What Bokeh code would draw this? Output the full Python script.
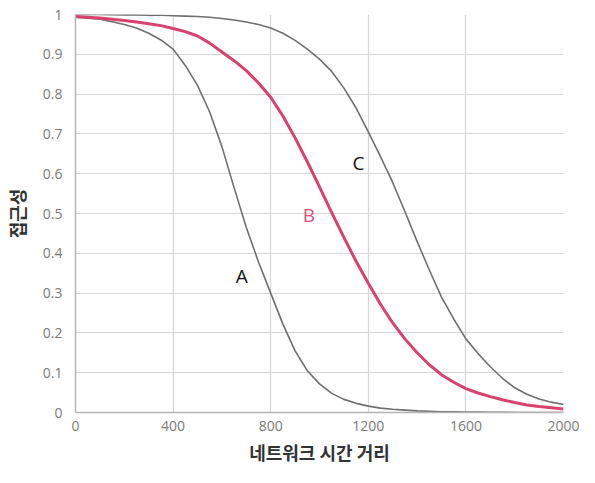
from bokeh.plotting import figure
from bokeh.models import Range1d, FixedTicker, ColumnDataSource
from bokeh.core.properties import value
from bokeh.embed import file_html
from bokeh.resources import INLINE

# ---- data ----
distance = [0, 50, 100, 150, 200, 250, 300, 350, 400, 450, 500, 550, 600, 650, 700, 750,
            800, 850, 900, 950, 1000, 1050, 1100, 1150, 1200, 1250, 1300, 1350, 1400,
            1450, 1500, 1550, 1600, 1650, 1700, 1750, 1800, 1850, 1900, 1950, 2000]
access_a = [0.993, 0.991, 0.988, 0.982, 0.975, 0.966, 0.953, 0.936, 0.913, 0.872, 0.822,
            0.755, 0.668, 0.565, 0.465, 0.378, 0.300, 0.222, 0.155, 0.105, 0.072, 0.048,
            0.033, 0.023, 0.016, 0.011, 0.008, 0.006, 0.004, 0.003, 0.002, 0.0015, 0.001,
            0.001, 0.0005, 0.0005, 0.0, 0.0, 0.0, 0.0, 0.0]
access_b = [0.995, 0.993, 0.991, 0.988, 0.985, 0.981, 0.977, 0.972, 0.965, 0.957, 0.946,
            0.928, 0.906, 0.884, 0.859, 0.828, 0.792, 0.745, 0.690, 0.630, 0.567, 0.502,
            0.440, 0.380, 0.325, 0.272, 0.225, 0.185, 0.150, 0.120, 0.095, 0.076, 0.060,
            0.049, 0.040, 0.032, 0.025, 0.019, 0.015, 0.012, 0.009]
access_c = [1.0, 1.0, 1.0, 0.9995, 0.999, 0.999, 0.998, 0.998, 0.997, 0.996, 0.995,
            0.993, 0.990, 0.986, 0.981, 0.975, 0.966, 0.953, 0.935, 0.913, 0.888, 0.857,
            0.815, 0.765, 0.705, 0.643, 0.578, 0.505, 0.430, 0.358, 0.290, 0.235, 0.185,
            0.148, 0.115, 0.086, 0.062, 0.046, 0.034, 0.026, 0.020]

curve_names = ["A", "B", "C"]
label_x = [681, 956, 1160]
label_y = [0.342, 0.497, 0.628]

x_ticks = [0, 400, 800, 1200, 1600, 2000]
y_ticks = [0, 0.1, 0.2, 0.3, 0.4, 0.5, 0.6, 0.7, 0.8, 0.9, 1.0]
y_tick_labels = ["0", "0.1", "0.2", "0.3", "0.4", "0.5", "0.6", "0.7", "0.8", "0.9", "1"]

x_title = "네트워크 시간 거리"
y_title = "접근성"

GRAY = "#6f6f6f"
PINK = "#d9416f"
GRID = "#d6d6d6"
KFONT = "Noto Sans CJK KR"
TFONT = "Open Sans"

p = figure(width=579, height=467, output_backend="svg", toolbar_location=None,
           x_range=Range1d(0, 2000), y_range=Range1d(0, 1),
           min_border_left=68, min_border_right=16, min_border_top=14, min_border_bottom=55)
p.outline_line_color = None
p.background_fill_color = "white"
p.border_fill_color = "white"

p.xaxis.ticker = FixedTicker(ticks=x_ticks)
p.yaxis.ticker = FixedTicker(ticks=y_ticks)
p.yaxis.major_label_overrides = {t: l for t, l in zip(y_ticks, y_tick_labels)}

for ax in (p.xaxis[0], p.yaxis[0]):
    ax.major_tick_line_color = None
    ax.minor_tick_line_color = None
    ax.major_tick_out = 0
    ax.major_tick_in = 0
    ax.minor_tick_out = 0
    ax.minor_tick_in = 0
    ax.axis_line_color = "#b5b5b5"
    ax.axis_line_width = 1.5
    ax.major_label_text_font = TFONT
    ax.major_label_text_font_size = "14px"
    ax.major_label_text_color = "#7a7a7a"
    ax.axis_label_text_font = KFONT
    ax.axis_label_text_font_style = "bold"
    ax.axis_label_text_font_size = "18px"
    ax.axis_label_text_color = "#333333"

p.xaxis.major_label_standoff = 8
p.yaxis.major_label_standoff = 13
p.xaxis.axis_label = x_title
p.yaxis.axis_label = y_title
p.xaxis.axis_label_standoff = 5
p.yaxis.axis_label_standoff = 10

p.xgrid.grid_line_color = GRID
p.ygrid.grid_line_color = GRID
p.xgrid.grid_line_width = 1.2
p.ygrid.grid_line_width = 1.2

p.line(distance, access_a, line_color=GRAY, line_width=1.6, line_join="round")
p.line(distance, access_c, line_color=GRAY, line_width=1.6, line_join="round")
p.line(distance, access_b, line_color=PINK, line_width=3, line_join="round")

src = ColumnDataSource(dict(x=label_x, y=label_y, t=curve_names,
                            c=["#111111", "#e0507a", "#111111"]))
p.text(x="x", y="y", text="t", source=src, text_color="c",
       text_font=value(TFONT), text_font_size="19px",
       text_align="center", text_baseline="middle")

open("out.html", "w").write(file_html(p, INLINE))
